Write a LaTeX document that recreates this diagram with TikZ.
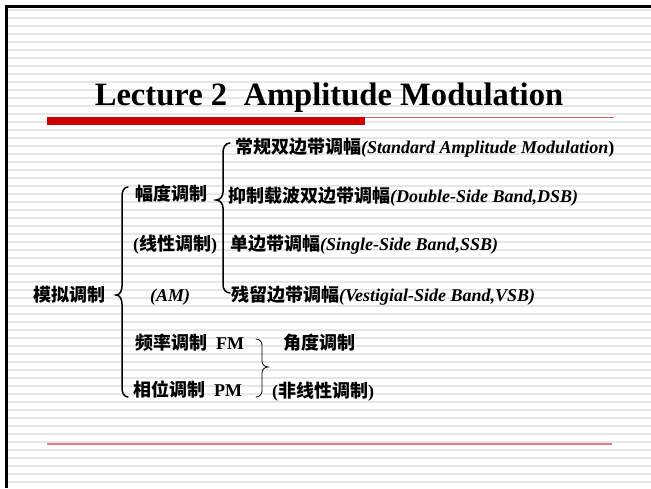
\documentclass[tikz,border=0pt]{standalone}
\usepackage{fontspec}
\setmainfont{Liberation Serif}
\newfontfamily\cjk{Noto Sans CJK SC}[Scale=1.0]
\definecolor{stripe}{RGB}{230,230,230}
\definecolor{barred}{RGB}{204,0,0}
\definecolor{thinred}{RGB}{224,96,96}
\definecolor{lowred}{RGB}{226,128,128}
\tikzset{
  txt/.style={anchor=base west, inner sep=0pt, font=\fontsize{18}{20}\selectfont\bfseries},
  brace/.style={line width=1.5pt, line cap=round},
  smallbrace/.style={line width=0.8pt, line cap=round}
}
\begin{document}
\begin{tikzpicture}[x=1pt,y=-1pt]
\useasboundingbox (0,0) rectangle (651,488);
\fill[white] (0,0) rectangle (651,488);
% stripes
\foreach \k in {0,...,59} {
  \fill[stripe] (7,{10+8*\k-1}) rectangle (651,{10+8*\k+1});
}
% border
\fill[black] (5,5) rectangle (651,7.5);
\fill[black] (5,5) rectangle (7.5,488);
% title
\node[anchor=base, inner sep=0pt, font=\fontsize{32.6}{36}\selectfont\bfseries] (title) at (329,105) {Lecture 2\ \ Amplitude Modulation};
\fill[barred] (47,116.5) rectangle (365,124.5);
\draw[thinred, line width=1pt] (365,117) -- (614,117);
\draw[lowred, line width=2pt] (47,444) -- (612,444);
% texts
\node[txt] (analog) at (33,301) {\cjk 模拟调制};
\node[txt] (am1) at (135,200) {\cjk 幅度调制};
\node[txt] (am2) at (133,250) {(\cjk 线性调制\rmfamily)};
\node[txt] (am3) at (150,301) {\itshape (AM)};
\node[txt] (fm) at (135,349) {\cjk 频率调制\rmfamily\ \ FM};
\node[txt] (pm) at (133,396) {\cjk 相位调制\rmfamily\ \ PM};
\node[txt] (ang1) at (283,349) {\cjk 角度调制};
\node[txt] (ang2) at (272,397) {(\cjk 非线性调制\rmfamily)};
\node[txt] (std) at (235,153) {\cjk 常规双边带调幅\rmfamily\itshape(Standard Amplitude Modulation\upshape)};
\node[txt] (dsb) at (228,202) {\cjk 抑制载波双边带调幅\rmfamily\itshape(Double-Side Band,DSB)};
\node[txt] (ssb) at (230,250) {\cjk 单边带调幅\rmfamily\itshape(Single-Side Band,SSB)};
\node[txt] (vsb) at (231,301) {\cjk 残留边带调幅\rmfamily\itshape(Vestigial-Side Band,VSB)};
% braces
\draw[brace] (128,187) to[out=180,in=90] (122,196) -- (122,286) to[out=-90,in=0] (116,295) to[out=0,in=90] (122,304) -- (122,388) to[out=-90,in=180] (128,397);
\draw[brace] (230,143) to[out=180,in=90] (223,152) -- (223,192) to[out=-90,in=0] (216,200) to[out=0,in=90] (223,208) -- (223,285) to[out=-90,in=180] (230,293);
\draw[smallbrace] (256,339) to[out=0,in=90] (262,345) -- (262,361) to[out=-90,in=180] (268,367) to[out=180,in=90] (262,373) -- (262,391) to[out=-90,in=0] (256,397);
\end{tikzpicture}
\end{document}
